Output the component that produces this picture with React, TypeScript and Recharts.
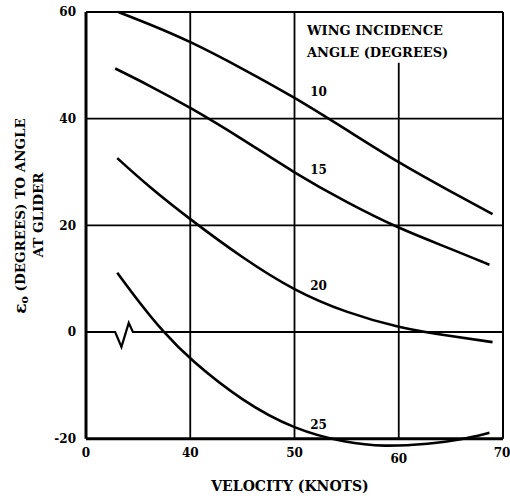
import { Line, LineChart, ReferenceDot, ReferenceLine, XAxis, YAxis, Label } from "recharts";

// ── data ─────────────────────────────────────────────────────────
const X_TICKS = [30, 40, 50, 60, 70];
const X_TICK_LABELS = ["0", "40", "50", "60", "70"]; // broken axis: 30 is labelled "0"
const Y_TICKS = [-20, 0, 20, 40, 60];

// wing incidence 10°
const V_10 = [33.1, 36, 40, 45, 50, 55, 60, 65, 69];
const E_10 = [60, 57.8, 54.5, 49.4, 44, 37.9, 31.7, 26.3, 22.1];
// wing incidence 15°
const V_15 = [32.8, 36, 40, 45, 50, 55, 60, 65, 68.7];
const E_15 = [49.4, 46.3, 42.1, 36.2, 29.8, 24.3, 19.4, 15.6, 12.6];
// wing incidence 20°
const V_20 = [33, 36, 40, 45, 50, 55, 60, 65, 69];
const E_20 = [32.6, 27.3, 21.1, 13.9, 7.7, 3.6, 0.8, -0.8, -1.9];
// wing incidence 25°
const V_25 = [33, 35, 37.4, 40, 45, 50, 55, 58.5, 63, 66, 68.7];
const E_25 = [11.1, 5.8, 0, -5.2, -13, -18.3, -20.8, -21.5, -21, -20.2, -18.9];

// zero line with the axis-break zigzag
const BREAK_V = [30, 32.8, 33.4, 34.1, 34.5, 70];
const BREAK_E = [0, 0, -2.8, 1.7, 0, 0];

const SERIES_NAMES = ["10", "15", "20", "25"];
const LABEL_V = [52.3, 52.3, 52.3, 52.3];
const LABEL_E = [45, 30.4, 8.7, -17.4];

const zip = (v: number[], e: number[]) => v.map((x, i) => ({ v: x, e: e[i] }));

const SERIES = [zip(V_10, E_10), zip(V_15, E_15), zip(V_20, E_20), zip(V_25, E_25)];
const BREAK_LINE = zip(BREAK_V, BREAK_E);

const FONT = "'DejaVu Serif', 'Liberation Serif', serif";
const INK = "#000";

const textStyle = { fontFamily: FONT, fontWeight: 700, fontSize: 12, fill: INK };

function XTick({ x, payload }: { x?: number; payload?: { value: number } }) {
	const i = X_TICKS.indexOf(payload?.value ?? 0);
	const label = X_TICK_LABELS[i] ?? "";
	const y = label === "60" ? 463 : 457;
	return (
		<text x={x} y={y} textAnchor="middle" {...textStyle}>
			{label}
		</text>
	);
}

// titles and the legend header, drawn in chart pixel space
function Annotations() {
	return (
		<g {...textStyle} fontSize={13}>
			<text x={20} y={216} transform="rotate(-90, 20, 216)" textAnchor="middle" dominantBaseline="central" fontSize={13.5}>
				<tspan fontSize={17}>ε</tspan>
				<tspan fontSize={11} dy={4}>o</tspan>
				<tspan dy={-4}>{"  (DEGREES) TO ANGLE"}</tspan>
			</text>
			<text x={38} y={215} transform="rotate(-90, 38, 215)" textAnchor="middle" dominantBaseline="central" fontSize={13.5}>
				AT GLIDER
			</text>
			<text x={290} y={491} textAnchor="middle" fontSize={14}>
				VELOCITY (KNOTS)
			</text>
			<text x={307} y={35}>WING INCIDENCE</text>
			<text x={307} y={57}>ANGLE (DEGREES)</text>
		</g>
	);
}

export default function App() {
	return (
		<div style={{ position: "absolute", left: 0, top: 0, width: 510, height: 502, background: "#fff" }}>
			<LineChart width={510} height={502} margin={{ top: 12, right: 7, bottom: 12, left: 0 }}>
				<XAxis
					dataKey="v"
					type="number"
					domain={[30, 70]}
					ticks={X_TICKS}
					height={30}
					axisLine={false}
					tickLine={false}
					tick={<XTick />}
				/>
				<YAxis
					dataKey="e"
					type="number"
					domain={[-24, 60]}
					ticks={Y_TICKS}
					width={86}
					axisLine={false}
					tickLine={false}
					tickMargin={4}
					tick={textStyle}
				>
					<Label content={() => <Annotations />} />
				</YAxis>

				{/* frame and grid */}
				<ReferenceLine y={60} stroke={INK} strokeWidth={2} />
				<ReferenceLine y={40} stroke={INK} strokeWidth={1.8} />
				<ReferenceLine y={20} stroke={INK} strokeWidth={1.8} />
				<ReferenceLine y={-20} stroke={INK} strokeWidth={3} />
				<ReferenceLine segment={[{ x: 30, y: -20 }, { x: 30, y: 60 }]} stroke={INK} strokeWidth={3} />
				<ReferenceLine segment={[{ x: 40, y: -20 }, { x: 40, y: 60 }]} stroke={INK} strokeWidth={1.8} />
				<ReferenceLine segment={[{ x: 50, y: -20 }, { x: 50, y: 60 }]} stroke={INK} strokeWidth={1.8} />
				<ReferenceLine segment={[{ x: 60, y: -20 }, { x: 60, y: 50.5 }]} stroke={INK} strokeWidth={1.8} />
				<ReferenceLine segment={[{ x: 70, y: -20 }, { x: 70, y: 60 }]} stroke={INK} strokeWidth={2} />

				<Line
					data={BREAK_LINE}
					dataKey="e"
					type="linear"
					stroke={INK}
					strokeWidth={2.2}
					dot={false}
					isAnimationActive={false}
				/>
				{SERIES.map((d, i) => (
					<Line
						key={SERIES_NAMES[i]}
						data={d}
						dataKey="e"
						type="basis"
						stroke={INK}
						strokeWidth={2.6}
						dot={false}
						isAnimationActive={false}
					/>
				))}
				{SERIES_NAMES.map((name, i) => (
					<ReferenceDot
						key={name}
						x={LABEL_V[i]}
						y={LABEL_E[i]}
						r={0}
						fill="none"
						stroke="none"
						label={{ value: name, position: "center", ...textStyle }}
					/>
				))}
			</LineChart>
		</div>
	);
}
